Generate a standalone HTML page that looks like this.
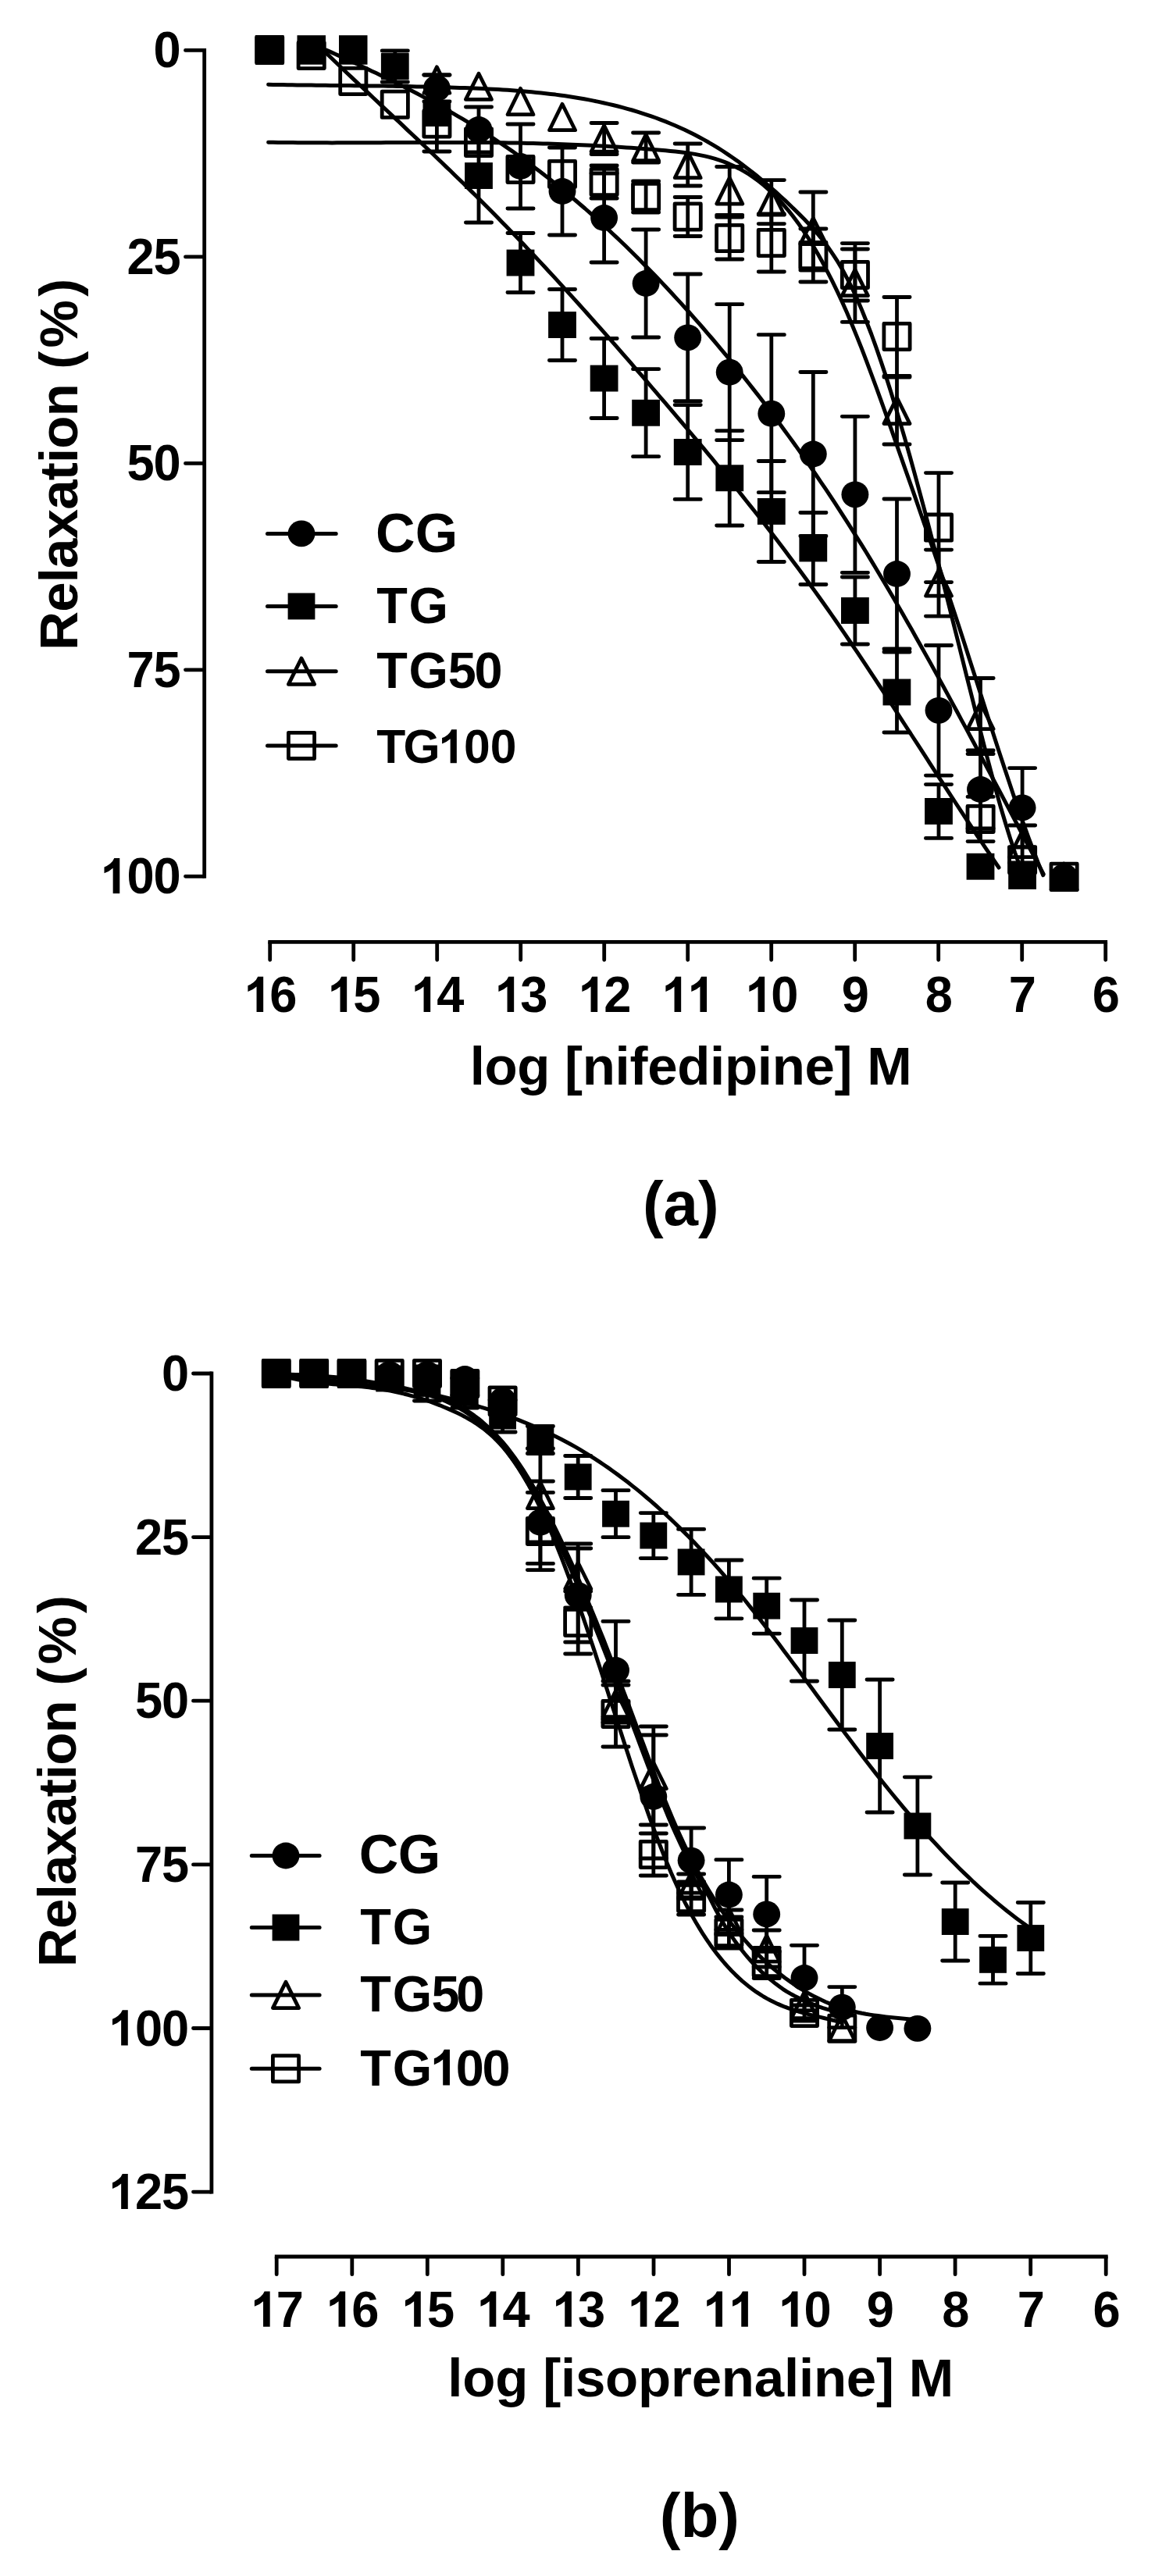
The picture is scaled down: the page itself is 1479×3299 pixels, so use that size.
<!DOCTYPE html>
<html><head><meta charset="utf-8"><title>chart</title><style>html,body{margin:0;padding:0;background:#fff}svg{display:block}
text{font-family:"Liberation Sans",sans-serif;font-weight:bold;fill:#000}
.T{font-size:69px}.P{font-size:80px}
.o{fill:none;stroke:#000;stroke-width:4.8;stroke-linejoin:round}
.e{fill:none;stroke:#000;stroke-width:4.8;stroke-linecap:round}
.c{fill:none;stroke:#000;stroke-width:5.0;stroke-linecap:round;stroke-linejoin:round}
.a{fill:none;stroke:#000;stroke-width:4.8;stroke-linecap:butt}
.k2{fill:none;stroke:#000;stroke-width:4.8;stroke-linecap:round}</style></head><body><svg width="1479" height="3299" viewBox="0 0 1479 3299"><rect width="1479" height="3299" fill="#fff"/><path class="c" d="M417.7 64.0L423.5 66.6L429.3 69.3L435.1 71.9L441.0 74.6L446.8 77.2L452.6 79.9L458.4 82.6L464.2 85.4L470.0 88.1L475.8 90.9L481.6 93.6L487.5 96.4L493.3 99.3L499.1 102.1L504.9 105.0L510.7 107.9L516.5 110.8L522.3 113.8L528.2 116.8L534.0 119.8L539.8 122.9L545.6 126.0L551.4 129.1L557.2 132.3L563.0 135.5L568.8 138.8L574.7 142.1L580.5 145.4L586.3 148.8L592.1 152.2L597.9 155.7L603.7 159.3L609.5 162.9L615.3 166.5L621.2 170.2L627.0 174.0L632.8 177.8L638.6 181.7L644.4 185.6L650.2 189.6L656.0 193.6L661.9 197.8L667.7 201.9L673.5 206.2L679.3 210.5L685.1 214.9L690.9 219.3L696.7 223.8L702.5 228.3L708.4 233.0L714.2 237.6L720.0 242.4L725.8 247.2L731.6 252.1L737.4 257.0L743.2 262.0L749.1 267.0L754.9 272.2L760.7 277.3L766.5 282.6L772.3 287.9L778.1 293.2L783.9 298.7L789.7 304.1L795.6 309.7L801.4 315.3L807.2 321.0L813.0 326.7L818.8 332.5L824.6 338.4L830.4 344.3L836.3 350.2L842.1 356.3L847.9 362.4L853.7 368.5L859.5 374.8L865.3 381.1L871.1 387.4L876.9 393.8L882.8 400.3L888.6 406.8L894.4 413.4L900.2 420.0L906.0 426.8L911.8 433.5L917.6 440.4L923.4 447.3L929.3 454.3L935.1 461.3L940.9 468.4L946.7 475.6L952.5 482.9L958.3 490.2L964.1 497.6L970.0 505.1L975.8 512.6L981.6 520.2L987.4 527.9L993.2 535.7L999.0 543.5L1004.8 551.4L1010.6 559.4L1016.5 567.5L1022.3 575.6L1028.1 583.8L1033.9 592.2L1039.7 600.5L1045.5 609.0L1051.3 617.6L1057.2 626.2L1063.0 634.9L1068.8 643.7L1074.6 652.6L1080.4 661.6L1086.2 670.7L1092.0 679.8L1097.8 689.1L1103.7 698.4L1109.5 707.8L1115.3 717.4L1121.1 727.0L1126.9 736.7L1132.7 746.4L1138.5 756.3L1144.4 766.2L1150.2 776.2L1156.0 786.3L1161.8 796.4L1167.6 806.6L1173.4 816.9L1179.2 827.2L1185.0 837.6L1190.9 848.1L1196.7 858.6L1202.5 869.1L1208.3 879.7L1214.1 890.4L1219.9 901.1L1225.7 911.8L1231.5 922.6L1237.4 933.4L1243.2 944.2L1249.0 955.0L1254.8 965.9L1260.6 976.8L1266.4 987.7L1272.2 998.7L1278.1 1009.6L1283.9 1020.6L1289.7 1031.6L1295.5 1042.6L1301.3 1053.5L1307.1 1064.5L1312.9 1075.5L1318.7 1086.5L1324.6 1097.5L1330.4 1108.4L1336.2 1119.4"/>
<path class="c" d="M417.7 68.0L423.2 73.3L428.7 78.5L434.2 83.8L439.6 89.0L445.1 94.2L450.6 99.4L456.1 104.6L461.6 109.8L467.1 114.9L472.6 120.1L478.0 125.3L483.5 130.4L489.0 135.6L494.5 140.8L500.0 145.9L505.5 151.1L511.0 156.2L516.5 161.4L521.9 166.6L527.4 171.8L532.9 176.9L538.4 182.1L543.9 187.3L549.4 192.6L554.9 197.8L560.3 203.0L565.8 208.3L571.3 213.6L576.8 218.8L582.3 224.2L587.8 229.5L593.3 234.8L598.7 240.2L604.2 245.6L609.7 251.0L615.2 256.5L620.7 262.0L626.2 267.5L631.7 273.0L637.1 278.6L642.6 284.2L648.1 289.8L653.6 295.5L659.1 301.1L664.6 306.9L670.1 312.6L675.5 318.4L681.0 324.2L686.5 330.0L692.0 335.9L697.5 341.8L703.0 347.7L708.5 353.6L714.0 359.6L719.4 365.6L724.9 371.6L730.4 377.6L735.9 383.7L741.4 389.7L746.9 395.8L752.4 402.0L757.8 408.1L763.3 414.3L768.8 420.4L774.3 426.6L779.8 432.9L785.3 439.1L790.8 445.4L796.2 451.6L801.7 457.9L807.2 464.2L812.7 470.6L818.2 476.9L823.7 483.2L829.2 489.6L834.6 496.0L840.1 502.4L845.6 508.8L851.1 515.2L856.6 521.6L862.1 528.1L867.6 534.6L873.1 541.0L878.5 547.5L884.0 554.0L889.5 560.6L895.0 567.1L900.5 573.7L906.0 580.3L911.5 586.9L916.9 593.6L922.4 600.3L927.9 607.0L933.4 613.7L938.9 620.5L944.4 627.3L949.9 634.1L955.3 641.0L960.8 647.9L966.3 654.8L971.8 661.8L977.3 668.8L982.8 675.9L988.3 683.0L993.7 690.1L999.2 697.3L1004.7 704.6L1010.2 711.9L1015.7 719.2L1021.2 726.6L1026.7 734.0L1032.2 741.5L1037.6 749.0L1043.1 756.6L1048.6 764.3L1054.1 772.0L1059.6 779.8L1065.1 787.6L1070.6 795.5L1076.0 803.4L1081.5 811.4L1087.0 819.5L1092.5 827.6L1098.0 835.7L1103.5 843.9L1109.0 852.1L1114.4 860.4L1119.9 868.7L1125.4 877.0L1130.9 885.4L1136.4 893.8L1141.9 902.2L1147.4 910.6L1152.8 919.1L1158.3 927.5L1163.8 936.0L1169.3 944.5L1174.8 952.9L1180.3 961.4L1185.8 969.9L1191.2 978.4L1196.7 986.8L1202.2 995.3L1207.7 1003.7L1213.2 1012.2L1218.7 1020.6L1224.2 1029.0L1229.7 1037.3L1235.1 1045.7L1240.6 1054.0L1246.1 1062.2L1251.6 1070.5L1257.1 1078.7L1262.6 1086.8L1268.1 1094.9L1273.5 1103.0L1279.0 1111.0"/>
<path class="c" d="M343.6 108.3L349.7 108.4L355.9 108.5L362.0 108.6L368.1 108.7L374.2 108.8L380.4 108.9L386.5 108.9L392.6 109.0L398.8 109.1L404.9 109.2L411.0 109.2L417.1 109.3L423.3 109.4L429.4 109.4L435.5 109.5L441.7 109.5L447.8 109.6L453.9 109.7L460.0 109.7L466.2 109.8L472.3 109.9L478.4 110.0L484.6 110.0L490.7 110.1L496.8 110.2L502.9 110.3L509.1 110.4L515.2 110.5L521.3 110.6L527.4 110.7L533.6 110.9L539.7 111.0L545.8 111.1L552.0 111.3L558.1 111.4L564.2 111.6L570.3 111.8L576.5 112.0L582.6 112.2L588.7 112.4L594.9 112.6L601.0 112.8L607.1 113.1L613.2 113.3L619.4 113.6L625.5 113.9L631.6 114.2L637.8 114.6L643.9 115.0L650.0 115.3L656.1 115.8L662.3 116.2L668.4 116.7L674.5 117.2L680.7 117.8L686.8 118.4L692.9 119.0L699.0 119.7L705.2 120.4L711.3 121.1L717.4 122.0L723.6 122.8L729.7 123.7L735.8 124.7L741.9 125.7L748.1 126.8L754.2 127.9L760.3 129.1L766.5 130.4L772.6 131.7L778.7 133.1L784.8 134.5L791.0 136.0L797.1 137.6L803.2 139.3L809.4 141.0L815.5 142.9L821.6 144.8L827.7 146.8L833.9 148.9L840.0 151.0L846.1 153.3L852.2 155.7L858.4 158.2L864.5 160.8L870.6 163.5L876.8 166.3L882.9 169.3L889.0 172.3L895.1 175.5L901.3 178.9L907.4 182.3L913.5 185.9L919.7 189.7L925.8 193.5L931.9 197.6L938.0 201.8L944.2 206.1L950.3 210.6L956.4 215.2L962.6 219.9L968.7 224.8L974.8 229.9L980.9 235.0L987.1 240.3L993.2 245.7L999.3 251.3L1005.5 256.9L1011.6 262.7L1017.7 268.6L1023.8 274.6L1030.0 280.8L1036.1 287.2L1042.2 294.0L1048.4 301.2L1054.5 308.8L1060.6 317.0L1066.7 325.8L1072.9 335.4L1079.0 345.8L1085.1 357.1L1091.3 369.3L1097.4 382.6L1103.5 396.8L1109.6 412.0L1115.8 428.0L1121.9 444.9L1128.0 462.6L1134.2 481.1L1140.3 500.2L1146.4 520.1L1152.5 540.6L1158.7 561.6L1164.8 583.2L1170.9 605.3L1177.0 627.8L1183.2 650.8L1189.3 674.1L1195.4 697.7L1201.6 721.6L1207.7 745.7L1213.8 769.9L1219.9 794.4L1226.1 818.9L1232.2 843.4L1238.3 867.9L1244.5 892.4L1250.6 916.8L1256.7 941.1L1262.8 965.0L1269.0 988.4L1275.1 1011.1L1281.2 1033.0L1287.4 1053.8L1293.5 1073.5L1299.6 1091.8L1305.7 1108.5"/>
<path class="c" d="M343.6 182.2L349.9 182.3L356.2 182.4L362.4 182.5L368.7 182.6L375.0 182.6L381.3 182.7L387.6 182.7L393.8 182.8L400.1 182.8L406.4 182.8L412.7 182.8L419.0 182.8L425.2 182.9L431.5 182.8L437.8 182.8L444.1 182.8L450.3 182.8L456.6 182.8L462.9 182.8L469.2 182.8L475.5 182.7L481.7 182.7L488.0 182.7L494.3 182.6L500.6 182.6L506.9 182.6L513.1 182.6L519.4 182.5L525.7 182.5L532.0 182.5L538.3 182.4L544.5 182.4L550.8 182.4L557.1 182.4L563.4 182.4L569.7 182.4L575.9 182.4L582.2 182.4L588.5 182.4L594.8 182.4L601.0 182.4L607.3 182.5L613.6 182.5L619.9 182.6L626.2 182.6L632.4 182.7L638.7 182.8L645.0 182.8L651.3 182.9L657.6 183.0L663.8 183.1L670.1 183.3L676.4 183.4L682.7 183.6L689.0 183.7L695.2 183.9L701.5 184.1L707.8 184.3L714.1 184.5L720.4 184.7L726.6 185.0L732.9 185.2L739.2 185.5L745.5 185.7L751.8 186.0L758.0 186.3L764.3 186.7L770.6 187.0L776.9 187.3L783.1 187.7L789.4 188.1L795.7 188.5L802.0 188.9L808.3 189.3L814.5 189.8L820.8 190.2L827.1 190.7L833.4 191.2L839.7 191.7L845.9 192.3L852.2 192.8L858.5 193.4L864.8 194.0L871.1 194.7L877.3 195.5L883.6 196.4L889.9 197.4L896.2 198.6L902.5 199.9L908.7 201.4L915.0 203.2L921.3 205.2L927.6 207.4L933.8 209.9L940.1 212.8L946.4 215.9L952.7 219.4L959.0 223.2L965.2 227.4L971.5 232.1L977.8 237.1L984.1 242.6L990.4 248.5L996.6 254.9L1002.9 261.8L1009.2 269.1L1015.5 277.0L1021.8 285.4L1028.0 294.3L1034.3 303.8L1040.6 313.9L1046.9 324.5L1053.2 335.8L1059.4 347.6L1065.7 359.9L1072.0 372.9L1078.3 386.4L1084.6 400.6L1090.8 415.3L1097.1 430.6L1103.4 446.4L1109.7 462.8L1115.9 479.5L1122.2 496.5L1128.5 513.9L1134.8 531.5L1141.1 549.2L1147.3 567.0L1153.6 584.9L1159.9 602.8L1166.2 620.7L1172.5 638.7L1178.7 656.7L1185.0 674.9L1191.3 693.1L1197.6 711.5L1203.9 730.0L1210.1 748.6L1216.4 767.4L1222.7 786.4L1229.0 805.5L1235.3 824.9L1241.5 844.5L1247.8 864.1L1254.1 883.8L1260.4 903.5L1266.6 923.2L1272.9 942.8L1279.2 962.2L1285.5 981.4L1291.8 1000.3L1298.0 1018.9L1304.3 1037.1L1310.6 1054.9L1316.9 1072.3L1323.2 1089.0L1329.4 1105.2L1335.7 1120.8"/>
<rect x="326.9" y="45.2" width="36.5" height="37.5"/>
<rect x="380.5" y="45.2" width="36.5" height="37.5"/>
<rect x="434.0" y="45.2" width="36.5" height="37.5"/>
<path class="e" d="M505.8 65.0V105.0M489.2 65.0h33.2M489.2 105.0h33.2"/>
<rect x="487.9" y="68.0" width="35.8" height="33.9"/>
<path class="e" d="M559.4 96.0V194.0M542.8 96.0h33.2M542.8 194.0h33.2"/>
<rect x="541.5" y="128.1" width="35.8" height="33.9"/>
<path class="e" d="M613.0 165.0V285.0M596.4 165.0h33.2M596.4 285.0h33.2"/>
<rect x="595.1" y="208.1" width="35.8" height="33.9"/>
<path class="e" d="M666.5 298.5V374.5M649.9 298.5h33.2M649.9 374.5h33.2"/>
<rect x="648.6" y="319.6" width="35.8" height="33.9"/>
<path class="e" d="M720.0 370.5V461.5M703.4 370.5h33.2M703.4 461.5h33.2"/>
<rect x="702.1" y="399.1" width="35.8" height="33.9"/>
<path class="e" d="M773.6 433.5V535.5M757.0 433.5h33.2M757.0 535.5h33.2"/>
<rect x="755.7" y="467.6" width="35.8" height="33.9"/>
<path class="e" d="M827.1 472.7V584.7M810.5 472.7h33.2M810.5 584.7h33.2"/>
<rect x="809.2" y="511.8" width="35.8" height="33.9"/>
<path class="e" d="M880.7 518.6V639.4M864.1 518.6h33.2M864.1 639.4h33.2"/>
<rect x="862.8" y="562.0" width="35.8" height="33.9"/>
<path class="e" d="M934.2 551.6V673.0M917.6 551.6h33.2M917.6 673.0h33.2"/>
<rect x="916.4" y="595.3" width="35.8" height="33.9"/>
<path class="e" d="M987.8 590.5V719.5M971.2 590.5h33.2M971.2 719.5h33.2"/>
<rect x="969.9" y="638.0" width="35.8" height="33.9"/>
<path class="e" d="M1041.3 656.5V748.5M1024.8 656.5h33.2M1024.8 748.5h33.2"/>
<rect x="1023.4" y="685.5" width="35.8" height="33.9"/>
<path class="e" d="M1094.9 739.0V825.0M1078.3 739.0h33.2M1078.3 825.0h33.2"/>
<rect x="1077.0" y="765.0" width="35.8" height="33.9"/>
<path class="e" d="M1148.5 835.0V938.0M1131.9 835.0h33.2M1131.9 938.0h33.2"/>
<rect x="1130.5" y="869.5" width="35.8" height="33.9"/>
<path class="e" d="M1202.0 1004.6V1073.4M1185.4 1004.6h33.2M1185.4 1073.4h33.2"/>
<rect x="1184.1" y="1022.0" width="35.8" height="33.9"/>
<rect x="1237.6" y="1092.8" width="35.8" height="33.9"/>
<rect x="1291.2" y="1105.0" width="35.8" height="33.9"/>
<path class="e" d="M559.4 96.0V130.0M542.8 96.0h33.2M542.8 130.0h33.2"/>
<ellipse cx="559.4" cy="113.0" rx="17.45" ry="16.9"/>
<path class="e" d="M613.0 137.0V195.0M596.4 137.0h33.2M596.4 195.0h33.2"/>
<ellipse cx="613.0" cy="166.0" rx="17.45" ry="16.9"/>
<path class="e" d="M666.5 159.0V267.0M649.9 159.0h33.2M649.9 267.0h33.2"/>
<ellipse cx="666.5" cy="213.0" rx="17.45" ry="16.9"/>
<path class="e" d="M720.0 189.0V301.0M703.4 189.0h33.2M703.4 301.0h33.2"/>
<ellipse cx="720.0" cy="245.0" rx="17.45" ry="16.9"/>
<path class="e" d="M773.6 222.0V336.0M757.0 222.0h33.2M757.0 336.0h33.2"/>
<ellipse cx="773.6" cy="279.0" rx="17.45" ry="16.9"/>
<path class="e" d="M827.1 294.0V432.0M810.5 294.0h33.2M810.5 432.0h33.2"/>
<ellipse cx="827.1" cy="363.0" rx="17.45" ry="16.9"/>
<path class="e" d="M880.7 351.0V513.6M864.1 351.0h33.2M864.1 513.6h33.2"/>
<ellipse cx="880.7" cy="432.3" rx="17.45" ry="16.9"/>
<path class="e" d="M934.2 389.7V563.7M917.6 389.7h33.2M917.6 563.7h33.2"/>
<ellipse cx="934.2" cy="476.7" rx="17.45" ry="16.9"/>
<path class="e" d="M987.8 428.7V630.7M971.2 428.7h33.2M971.2 630.7h33.2"/>
<ellipse cx="987.8" cy="529.7" rx="17.45" ry="16.9"/>
<path class="e" d="M1041.3 476.5V686.5M1024.8 476.5h33.2M1024.8 686.5h33.2"/>
<ellipse cx="1041.3" cy="581.5" rx="17.45" ry="16.9"/>
<path class="e" d="M1094.9 533.3V733.3M1078.3 533.3h33.2M1078.3 733.3h33.2"/>
<ellipse cx="1094.9" cy="633.3" rx="17.45" ry="16.9"/>
<path class="e" d="M1148.5 639.0V831.0M1131.9 639.0h33.2M1131.9 831.0h33.2"/>
<ellipse cx="1148.5" cy="735.0" rx="17.45" ry="16.9"/>
<path class="e" d="M1202.0 826.5V993.1M1185.4 826.5h33.2M1185.4 993.1h33.2"/>
<ellipse cx="1202.0" cy="909.8" rx="17.45" ry="16.9"/>
<path class="e" d="M1255.5 961.0V1061.0M1239.0 961.0h33.2M1239.0 1061.0h33.2"/>
<ellipse cx="1255.5" cy="1011.0" rx="17.45" ry="16.9"/>
<path class="e" d="M1309.1 983.6V1085.2M1292.5 983.6h33.2M1292.5 1085.2h33.2"/>
<ellipse cx="1309.1" cy="1034.4" rx="17.45" ry="16.9"/>
<ellipse cx="1362.6" cy="1122.8" rx="17.45" ry="16.9"/>
<path class="o" d="M559.4 85.8L575.9 119.2L542.9 119.2Z"/>
<path class="o" d="M613.0 94.2L629.5 127.4L596.4 127.4Z"/>
<path class="o" d="M666.5 113.3L683.0 146.7L650.0 146.7Z"/>
<path class="o" d="M720.0 133.3L736.6 166.7L703.5 166.7Z"/>
<path class="e" d="M773.6 157.5V197.5M757.0 157.5h33.2M757.0 197.5h33.2"/>
<path class="o" d="M773.6 160.8L790.1 194.2L757.0 194.2Z"/>
<path class="e" d="M827.1 170.0V208.0M810.5 170.0h33.2M810.5 208.0h33.2"/>
<path class="o" d="M827.1 172.3L843.7 205.7L810.6 205.7Z"/>
<path class="e" d="M880.7 184.0V238.0M864.1 184.0h33.2M864.1 238.0h33.2"/>
<path class="o" d="M880.7 194.3L897.2 227.7L864.2 227.7Z"/>
<path class="e" d="M934.2 213.5V275.5M917.6 213.5h33.2M917.6 275.5h33.2"/>
<path class="o" d="M934.2 227.8L950.8 261.1L917.7 261.1Z"/>
<path class="e" d="M987.8 230.6V286.6M971.2 230.6h33.2M971.2 286.6h33.2"/>
<path class="o" d="M987.8 242.0L1004.3 275.2L971.2 275.2Z"/>
<path class="e" d="M1041.3 246.0V346.0M1024.8 246.0h33.2M1024.8 346.0h33.2"/>
<path class="o" d="M1041.3 279.4L1057.9 312.6L1024.8 312.6Z"/>
<path class="e" d="M1094.9 311.6V412.4M1078.3 311.6h33.2M1078.3 412.4h33.2"/>
<path class="o" d="M1094.9 345.4L1111.4 378.6L1078.3 378.6Z"/>
<path class="e" d="M1148.5 483.0V569.0M1131.9 483.0h33.2M1131.9 569.0h33.2"/>
<path class="o" d="M1148.5 509.4L1165.0 542.6L1131.9 542.6Z"/>
<path class="e" d="M1202.0 704.1V789.1M1185.4 704.1h33.2M1185.4 789.1h33.2"/>
<path class="o" d="M1202.0 730.0L1218.5 763.2L1185.5 763.2Z"/>
<path class="e" d="M1255.5 868.5V965.5M1239.0 868.5h33.2M1239.0 965.5h33.2"/>
<path class="o" d="M1255.5 900.4L1272.1 933.6L1239.0 933.6Z"/>
<path class="e" d="M1309.1 1057.0V1105.0M1292.5 1057.0h33.2M1292.5 1105.0h33.2"/>
<path class="o" d="M1309.1 1064.3L1325.6 1097.7L1292.5 1097.7Z"/>
<path class="o" d="M1362.6 1106.1L1379.2 1139.5L1346.1 1139.5Z"/>
<rect class="o" x="328.6" y="47.4" width="33.2" height="33.2"/>
<rect class="o" x="382.1" y="54.4" width="33.2" height="33.2"/>
<rect class="o" x="435.7" y="87.4" width="33.2" height="33.2"/>
<rect class="o" x="489.2" y="117.2" width="33.2" height="33.2"/>
<rect class="o" x="542.8" y="141.9" width="33.2" height="33.2"/>
<rect class="o" x="596.4" y="166.4" width="33.2" height="33.2"/>
<rect class="o" x="649.9" y="200.4" width="33.2" height="33.2"/>
<rect class="o" x="703.4" y="206.4" width="33.2" height="33.2"/>
<path class="e" d="M773.6 212.0V254.0M757.0 212.0h33.2M757.0 254.0h33.2"/>
<rect class="o" x="757.0" y="216.4" width="33.2" height="33.2"/>
<path class="e" d="M827.1 232.0V272.0M810.5 232.0h33.2M810.5 272.0h33.2"/>
<rect class="o" x="810.5" y="235.4" width="33.2" height="33.2"/>
<path class="e" d="M880.7 252.5V302.5M864.1 252.5h33.2M864.1 302.5h33.2"/>
<rect class="o" x="864.1" y="260.9" width="33.2" height="33.2"/>
<path class="e" d="M934.2 278.0V332.0M917.6 278.0h33.2M917.6 332.0h33.2"/>
<rect class="o" x="917.6" y="288.4" width="33.2" height="33.2"/>
<path class="e" d="M987.8 274.0V348.0M971.2 274.0h33.2M971.2 348.0h33.2"/>
<rect class="o" x="971.2" y="294.4" width="33.2" height="33.2"/>
<path class="e" d="M1041.3 293.0V361.0M1024.8 293.0h33.2M1024.8 361.0h33.2"/>
<rect class="o" x="1024.8" y="310.4" width="33.2" height="33.2"/>
<path class="e" d="M1094.9 319.0V385.0M1078.3 319.0h33.2M1078.3 385.0h33.2"/>
<rect class="o" x="1078.3" y="335.4" width="33.2" height="33.2"/>
<path class="e" d="M1148.5 380.5V481.5M1131.9 380.5h33.2M1131.9 481.5h33.2"/>
<rect class="o" x="1131.9" y="414.4" width="33.2" height="33.2"/>
<path class="e" d="M1202.0 605.6V745.6M1185.4 605.6h33.2M1185.4 745.6h33.2"/>
<rect class="o" x="1185.4" y="659.0" width="33.2" height="33.2"/>
<path class="e" d="M1255.5 1020.4V1077.6M1239.0 1020.4h33.2M1239.0 1077.6h33.2"/>
<rect class="o" x="1239.0" y="1032.4" width="33.2" height="33.2"/>
<rect class="o" x="1292.5" y="1084.7" width="33.2" height="33.2"/>
<rect class="o" x="1346.0" y="1106.2" width="33.2" height="33.2"/>
<rect x="1347.6" y="1113" width="30" height="24"/>
<path class="c" d="M354.0 1760.4L360.1 1760.3L366.1 1760.2L372.2 1760.3L378.3 1760.4L384.4 1760.6L390.4 1760.8L396.5 1761.1L402.6 1761.4L408.7 1761.9L414.7 1762.3L420.8 1762.9L426.9 1763.4L432.9 1764.1L439.0 1764.8L445.1 1765.5L451.2 1766.3L457.2 1767.1L463.3 1768.0L469.4 1769.0L475.4 1769.9L481.5 1770.9L487.6 1772.0L493.7 1773.1L499.7 1774.2L505.8 1775.4L511.9 1776.6L518.0 1777.8L524.0 1779.1L530.1 1780.4L536.2 1781.7L542.2 1783.0L548.3 1784.4L554.4 1785.8L560.5 1787.2L566.5 1788.7L572.6 1790.2L578.7 1791.7L584.7 1793.3L590.8 1794.9L596.9 1796.5L603.0 1798.2L609.0 1800.0L615.1 1801.8L621.2 1803.6L627.3 1805.6L633.3 1807.5L639.4 1809.6L645.5 1811.7L651.5 1813.8L657.6 1816.1L663.7 1818.4L669.8 1820.8L675.8 1823.3L681.9 1825.8L688.0 1828.4L694.1 1831.2L700.1 1834.0L706.2 1836.9L712.3 1839.9L718.3 1843.0L724.4 1846.2L730.5 1849.5L736.6 1852.9L742.6 1856.4L748.7 1860.1L754.8 1863.8L760.8 1867.7L766.9 1871.6L773.0 1875.7L779.1 1879.9L785.1 1884.2L791.2 1888.6L797.3 1893.2L803.4 1897.8L809.4 1902.6L815.5 1907.4L821.6 1912.4L827.6 1917.5L833.7 1922.7L839.8 1928.0L845.9 1933.5L851.9 1939.0L858.0 1944.7L864.1 1950.5L870.1 1956.4L876.2 1962.4L882.3 1968.5L888.4 1974.7L894.4 1981.1L900.5 1987.6L906.6 1994.2L912.7 2000.9L918.7 2007.7L924.8 2014.6L930.9 2021.7L936.9 2028.9L943.0 2036.1L949.1 2043.5L955.2 2051.0L961.2 2058.6L967.3 2066.3L973.4 2074.1L979.4 2081.9L985.5 2089.8L991.6 2097.8L997.7 2105.8L1003.7 2113.9L1009.8 2122.0L1015.9 2130.2L1022.0 2138.3L1028.0 2146.6L1034.1 2154.8L1040.2 2163.0L1046.2 2171.3L1052.3 2179.5L1058.4 2187.7L1064.5 2195.9L1070.5 2204.1L1076.6 2212.3L1082.7 2220.4L1088.8 2228.5L1094.8 2236.6L1100.9 2244.6L1107.0 2252.5L1113.0 2260.3L1119.1 2268.1L1125.2 2275.9L1131.3 2283.5L1137.3 2291.0L1143.4 2298.5L1149.5 2305.8L1155.5 2313.1L1161.6 2320.3L1167.7 2327.4L1173.8 2334.3L1179.8 2341.2L1185.9 2348.0L1192.0 2354.7L1198.1 2361.3L1204.1 2367.8L1210.2 2374.2L1216.3 2380.4L1222.3 2386.6L1228.4 2392.7L1234.5 2398.6L1240.6 2404.4L1246.6 2410.2L1252.7 2415.8L1258.8 2421.3L1264.8 2426.7L1270.9 2431.9L1277.0 2437.1L1283.1 2442.1L1289.1 2447.0L1295.2 2451.7L1301.3 2456.4L1307.4 2460.9L1313.4 2465.3L1319.5 2469.6"/>
<path class="c" d="M354.0 1759.6L358.6 1761.0L363.1 1762.4L367.7 1763.6L372.2 1764.7L376.8 1765.8L381.3 1766.7L385.9 1767.6L390.4 1768.4L395.0 1769.1L399.5 1769.7L404.1 1770.3L408.6 1770.9L413.2 1771.4L417.7 1771.8L422.3 1772.3L426.9 1772.7L431.4 1773.1L436.0 1773.4L440.5 1773.8L445.1 1774.2L449.6 1774.6L454.2 1775.0L458.7 1775.4L463.3 1775.8L467.8 1776.3L472.4 1776.8L476.9 1777.4L481.5 1778.0L486.1 1778.7L490.6 1779.5L495.2 1780.3L499.7 1781.1L504.3 1782.0L508.8 1783.0L513.4 1784.0L517.9 1785.2L522.5 1786.3L527.0 1787.6L531.6 1788.9L536.1 1790.2L540.7 1791.7L545.2 1793.1L549.8 1794.7L554.4 1796.4L558.9 1798.1L563.5 1799.8L568.0 1801.7L572.6 1803.6L577.1 1805.6L581.7 1807.7L586.2 1809.8L590.8 1812.1L595.3 1814.4L599.9 1817.0L604.4 1819.7L609.0 1822.5L613.5 1825.6L618.1 1828.9L622.7 1832.5L627.2 1836.4L631.8 1840.5L636.3 1845.0L640.9 1849.8L645.4 1854.9L650.0 1860.5L654.5 1866.4L659.1 1872.8L663.6 1879.6L668.2 1886.8L672.7 1894.5L677.3 1902.6L681.8 1911.2L686.4 1920.1L691.0 1929.4L695.5 1939.1L700.1 1949.2L704.6 1959.6L709.2 1970.4L713.7 1981.6L718.3 1993.1L722.8 2004.9L727.4 2017.0L731.9 2029.4L736.5 2042.1L741.0 2055.0L745.6 2068.1L750.2 2081.5L754.7 2095.0L759.3 2108.6L763.8 2122.4L768.4 2136.3L772.9 2150.3L777.5 2164.3L782.0 2178.4L786.6 2192.4L791.1 2206.5L795.7 2220.5L800.2 2234.5L804.8 2248.4L809.3 2262.2L813.9 2275.8L818.5 2289.2L823.0 2302.5L827.6 2315.6L832.1 2328.4L836.7 2340.9L841.2 2353.1L845.8 2365.0L850.3 2376.6L854.9 2387.7L859.4 2398.5L864.0 2408.8L868.5 2418.8L873.1 2428.3L877.6 2437.3L882.2 2446.0L886.8 2454.4L891.3 2462.3L895.9 2469.9L900.4 2477.2L905.0 2484.1L909.5 2490.7L914.1 2496.9L918.6 2502.9L923.2 2508.6L927.7 2514.0L932.3 2519.1L936.8 2524.0L941.4 2528.6L945.9 2532.9L950.5 2537.1L955.1 2540.9L959.6 2544.6L964.2 2548.0L968.7 2551.2L973.3 2554.2L977.8 2557.0L982.4 2559.6L986.9 2562.0L991.5 2564.3L996.0 2566.4L1000.6 2568.4L1005.1 2570.2L1009.7 2571.9L1014.3 2573.5L1018.8 2574.9L1023.4 2576.3L1027.9 2577.6L1032.5 2578.9L1037.0 2580.1L1041.6 2581.2L1046.1 2582.3L1050.7 2583.4L1055.2 2584.5L1059.8 2585.6L1064.3 2586.7L1068.9 2587.8L1073.4 2589.0L1078.0 2590.2"/>
<path class="c" d="M354.0 1759.5L359.2 1760.0L364.3 1760.6L369.5 1761.1L374.7 1761.7L379.8 1762.3L385.0 1762.9L390.2 1763.6L395.4 1764.2L400.5 1764.8L405.7 1765.5L410.9 1766.2L416.0 1766.8L421.2 1767.5L426.4 1768.1L431.5 1768.8L436.7 1769.5L441.9 1770.1L447.1 1770.8L452.2 1771.4L457.4 1772.1L462.6 1772.7L467.7 1773.3L472.9 1773.9L478.1 1774.5L483.2 1775.0L488.4 1775.6L493.6 1776.2L498.8 1776.7L503.9 1777.3L509.1 1778.0L514.3 1778.6L519.4 1779.4L524.6 1780.2L529.8 1781.1L534.9 1782.1L540.1 1783.2L545.3 1784.5L550.5 1785.8L555.6 1787.3L560.8 1789.0L566.0 1790.8L571.1 1792.8L576.3 1795.0L581.5 1797.4L586.6 1800.0L591.8 1802.9L597.0 1806.0L602.2 1809.3L607.3 1812.9L612.5 1816.8L617.7 1821.0L622.8 1825.5L628.0 1830.3L633.2 1835.4L638.3 1840.9L643.5 1846.7L648.7 1852.9L653.8 1859.5L659.0 1866.5L664.2 1873.9L669.4 1881.7L674.5 1889.8L679.7 1898.4L684.9 1907.3L690.0 1916.5L695.2 1926.1L700.4 1935.9L705.5 1946.1L710.7 1956.6L715.9 1967.3L721.1 1978.3L726.2 1989.5L731.4 2000.9L736.6 2012.6L741.7 2024.4L746.9 2036.5L752.1 2048.8L757.2 2061.2L762.4 2073.8L767.6 2086.6L772.8 2099.5L777.9 2112.6L783.1 2125.9L788.3 2139.2L793.4 2152.7L798.6 2166.4L803.8 2180.1L808.9 2193.9L814.1 2207.8L819.3 2221.7L824.5 2235.5L829.6 2249.2L834.8 2262.8L840.0 2276.2L845.1 2289.5L850.3 2302.5L855.5 2315.1L860.6 2327.5L865.8 2339.5L871.0 2351.0L876.2 2362.2L881.3 2372.8L886.5 2383.1L891.7 2393.0L896.8 2402.4L902.0 2411.5L907.2 2420.3L912.3 2428.6L917.5 2436.7L922.7 2444.4L927.8 2451.8L933.0 2458.9L938.2 2465.8L943.4 2472.3L948.5 2478.6L953.7 2484.7L958.9 2490.5L964.0 2496.1L969.2 2501.5L974.4 2506.6L979.5 2511.5L984.7 2516.2L989.9 2520.8L995.1 2525.1L1000.2 2529.2L1005.4 2533.2L1010.6 2536.9L1015.7 2540.6L1020.9 2544.0L1026.1 2547.3L1031.2 2550.4L1036.4 2553.4L1041.6 2556.2L1046.8 2558.8L1051.9 2561.3L1057.1 2563.7L1062.3 2565.9L1067.4 2567.9L1072.6 2569.8L1077.8 2571.6L1082.9 2573.2L1088.1 2574.7L1093.3 2576.0L1098.5 2577.2L1103.6 2578.3L1108.8 2579.3L1114.0 2580.1L1119.1 2580.9L1124.3 2581.6L1129.5 2582.3L1134.6 2582.9L1139.8 2583.5L1145.0 2584.0L1150.2 2584.5L1155.3 2585.0L1160.5 2585.5L1165.7 2586.1L1170.8 2586.7L1176.0 2587.3"/>
<path class="c" d="M359.8 1760.6L365.0 1761.1L370.2 1761.7L375.3 1762.3L380.5 1762.9L385.7 1763.6L390.9 1764.2L396.0 1764.8L401.2 1765.5L406.4 1766.2L411.5 1766.8L416.7 1767.5L421.9 1768.1L427.0 1768.8L432.2 1769.5L437.4 1770.1L442.6 1770.8L447.7 1771.4L452.9 1772.1L458.1 1772.7L463.2 1773.3L468.4 1773.9L473.6 1774.5L478.7 1775.0L483.9 1775.6L489.1 1776.2L494.3 1776.7L499.4 1777.3L504.6 1778.0L509.8 1778.6L514.9 1779.4L520.1 1780.2L525.3 1781.1L530.4 1782.1L535.6 1783.2L540.8 1784.5L546.0 1785.8L551.1 1787.3L556.3 1789.0L561.5 1790.8L566.6 1792.8L571.8 1795.0L577.0 1797.4L582.1 1800.0L587.3 1802.9L592.5 1806.0L597.7 1809.3L602.8 1812.9L608.0 1816.8L613.2 1821.0L618.3 1825.5L623.5 1830.3L628.7 1835.4L633.8 1840.9L639.0 1846.7L644.2 1852.9L649.3 1859.5L654.5 1866.5L659.7 1873.9L664.9 1881.7L670.0 1889.8L675.2 1898.4L680.4 1907.3L685.5 1916.5L690.7 1926.1L695.9 1935.9L701.0 1946.1L706.2 1956.6L711.4 1967.3L716.6 1978.3L721.7 1989.5L726.9 2000.9L732.1 2012.6L737.2 2024.4L742.4 2036.5L747.6 2048.8L752.7 2061.2L757.9 2073.8L763.1 2086.6L768.3 2099.5L773.4 2112.6L778.6 2125.9L783.8 2139.2L788.9 2152.7L794.1 2166.4L799.3 2180.1L804.4 2193.9L809.6 2207.8L814.8 2221.7L820.0 2235.5L825.1 2249.2L830.3 2262.8L835.5 2276.2L840.6 2289.5L845.8 2302.5L851.0 2315.1L856.1 2327.5L861.3 2339.5L866.5 2351.0L871.7 2362.2L876.8 2372.8L882.0 2383.1L887.2 2393.0L892.3 2402.4L897.5 2411.5L902.7 2420.3L907.8 2428.6L911.9 2436.7L915.8 2444.4L919.8 2451.8L923.8 2458.9L927.9 2465.8L932.0 2472.3L936.1 2478.6L940.3 2484.7L944.5 2490.5L948.8 2496.1L953.1 2501.5L957.4 2506.6L961.8 2511.5L966.2 2516.2L970.6 2520.8L975.1 2525.1L979.6 2529.2L984.1 2533.2L988.7 2536.9L993.3 2540.6L997.9 2544.0L1002.5 2547.3L1007.2 2550.4L1012.4 2553.4L1017.6 2556.2L1022.8 2558.8L1027.9 2561.3L1033.1 2563.7L1038.3 2565.9L1043.4 2567.9L1048.6 2569.8L1053.8 2571.6L1058.9 2573.2L1064.1 2574.7L1069.3 2576.0L1074.5 2577.2"/>
<rect x="335.6" y="1740.2" width="36.5" height="37.5"/>
<rect x="383.9" y="1740.2" width="36.5" height="37.5"/>
<rect x="432.1" y="1740.2" width="36.5" height="37.5"/>
<rect x="481.3" y="1748.5" width="34.8" height="33.9"/>
<path class="e" d="M547.0 1750.0V1794.0M530.4 1750.0h33.2M530.4 1794.0h33.2"/>
<rect x="529.6" y="1755.0" width="34.8" height="33.9"/>
<path class="e" d="M595.3 1765.0V1803.0M578.7 1765.0h33.2M578.7 1803.0h33.2"/>
<rect x="577.9" y="1767.0" width="34.8" height="33.9"/>
<path class="e" d="M643.6 1793.0V1834.0M627.0 1793.0h33.2M627.0 1834.0h33.2"/>
<rect x="626.2" y="1796.5" width="34.8" height="33.9"/>
<path class="e" d="M691.9 1826.5V1861.5M675.3 1826.5h33.2M675.3 1861.5h33.2"/>
<rect x="674.5" y="1827.0" width="34.8" height="33.9"/>
<path class="e" d="M740.2 1864.5V1918.5M723.6 1864.5h33.2M723.6 1918.5h33.2"/>
<rect x="722.8" y="1874.5" width="34.8" height="33.9"/>
<path class="e" d="M788.5 1908.7V1968.7M771.9 1908.7h33.2M771.9 1968.7h33.2"/>
<rect x="771.1" y="1921.8" width="34.8" height="33.9"/>
<path class="e" d="M836.8 1937.6V1995.6M820.2 1937.6h33.2M820.2 1995.6h33.2"/>
<rect x="819.4" y="1949.6" width="34.8" height="33.9"/>
<path class="e" d="M885.1 1958.4V2042.4M868.5 1958.4h33.2M868.5 2042.4h33.2"/>
<rect x="867.7" y="1983.5" width="34.8" height="33.9"/>
<path class="e" d="M933.4 1998.0V2072.8M916.8 1998.0h33.2M916.8 2072.8h33.2"/>
<rect x="916.0" y="2018.5" width="34.8" height="33.9"/>
<path class="e" d="M981.7 2021.2V2092.2M965.1 2021.2h33.2M965.1 2092.2h33.2"/>
<rect x="964.3" y="2039.7" width="34.8" height="33.9"/>
<path class="e" d="M1030.0 2049.0V2153.0M1013.4 2049.0h33.2M1013.4 2153.0h33.2"/>
<rect x="1012.6" y="2084.1" width="34.8" height="33.9"/>
<path class="e" d="M1078.3 2075.0V2215.0M1061.7 2075.0h33.2M1061.7 2215.0h33.2"/>
<rect x="1060.9" y="2128.1" width="34.8" height="33.9"/>
<path class="e" d="M1126.6 2151.0V2321.0M1110.0 2151.0h33.2M1110.0 2321.0h33.2"/>
<rect x="1109.2" y="2219.1" width="34.8" height="33.9"/>
<path class="e" d="M1174.9 2275.8V2401.0M1158.3 2275.8h33.2M1158.3 2401.0h33.2"/>
<rect x="1157.5" y="2321.5" width="34.8" height="33.9"/>
<path class="e" d="M1223.2 2411.0V2511.0M1206.6 2411.0h33.2M1206.6 2511.0h33.2"/>
<rect x="1205.8" y="2444.1" width="34.8" height="33.9"/>
<path class="e" d="M1271.5 2479.4V2540.2M1254.9 2479.4h33.2M1254.9 2540.2h33.2"/>
<rect x="1254.1" y="2492.9" width="34.8" height="33.9"/>
<path class="e" d="M1319.8 2436.5V2527.5M1303.2 2436.5h33.2M1303.2 2527.5h33.2"/>
<rect x="1302.4" y="2465.1" width="34.8" height="33.9"/>
<ellipse cx="353.8" cy="1759.0" rx="17.45" ry="16.9"/>
<ellipse cx="402.1" cy="1759.0" rx="17.45" ry="16.9"/>
<ellipse cx="450.4" cy="1759.0" rx="17.45" ry="16.9"/>
<ellipse cx="498.7" cy="1760.0" rx="17.45" ry="16.9"/>
<ellipse cx="547.0" cy="1760.0" rx="17.45" ry="16.9"/>
<ellipse cx="595.3" cy="1766.0" rx="17.45" ry="16.9"/>
<ellipse cx="643.6" cy="1793.6" rx="17.45" ry="16.9"/>
<path class="e" d="M691.9 1897.0V2002.4M675.3 1897.0h33.2M675.3 2002.4h33.2"/>
<ellipse cx="691.9" cy="1949.7" rx="17.45" ry="16.9"/>
<path class="e" d="M740.2 1983.0V2103.0M723.6 1983.0h33.2M723.6 2103.0h33.2"/>
<ellipse cx="740.2" cy="2043.0" rx="17.45" ry="16.9"/>
<path class="e" d="M788.5 2076.4V2201.6M771.9 2076.4h33.2M771.9 2201.6h33.2"/>
<ellipse cx="788.5" cy="2139.0" rx="17.45" ry="16.9"/>
<path class="e" d="M836.8 2222.0V2380.0M820.2 2222.0h33.2M820.2 2380.0h33.2"/>
<ellipse cx="836.8" cy="2301.0" rx="17.45" ry="16.9"/>
<path class="e" d="M885.1 2341.0V2424.2M868.5 2341.0h33.2M868.5 2424.2h33.2"/>
<ellipse cx="885.1" cy="2382.6" rx="17.45" ry="16.9"/>
<path class="e" d="M933.4 2381.7V2471.3M916.8 2381.7h33.2M916.8 2471.3h33.2"/>
<ellipse cx="933.4" cy="2426.5" rx="17.45" ry="16.9"/>
<path class="e" d="M981.7 2403.4V2499.4M965.1 2403.4h33.2M965.1 2499.4h33.2"/>
<ellipse cx="981.7" cy="2451.4" rx="17.45" ry="16.9"/>
<path class="e" d="M1030.0 2491.3V2574.7M1013.4 2491.3h33.2M1013.4 2574.7h33.2"/>
<ellipse cx="1030.0" cy="2533.0" rx="17.45" ry="16.9"/>
<path class="e" d="M1078.3 2544.6V2596.6M1061.7 2544.6h33.2M1061.7 2596.6h33.2"/>
<ellipse cx="1078.3" cy="2570.6" rx="17.45" ry="16.9"/>
<ellipse cx="1126.6" cy="2597.0" rx="17.45" ry="16.9"/>
<ellipse cx="1174.9" cy="2597.8" rx="17.45" ry="16.9"/>
<path class="o" d="M595.3 1753.3L611.8 1786.7L578.8 1786.7Z"/>
<path class="o" d="M643.6 1778.3L660.1 1811.7L627.0 1811.7Z"/>
<path class="e" d="M691.9 1855.0V1975.0M675.3 1855.0h33.2M675.3 1975.0h33.2"/>
<path class="o" d="M691.9 1898.3L708.4 1931.7L675.4 1931.7Z"/>
<path class="e" d="M740.2 1977.0V2059.0M723.6 1977.0h33.2M723.6 2059.0h33.2"/>
<path class="o" d="M740.2 2001.3L756.8 2034.7L723.7 2034.7Z"/>
<path class="e" d="M788.5 2158.0V2206.0M771.9 2158.0h33.2M771.9 2206.0h33.2"/>
<path class="o" d="M788.5 2165.3L805.0 2198.7L772.0 2198.7Z"/>
<path class="e" d="M836.8 2211.0V2337.0M820.2 2211.0h33.2M820.2 2337.0h33.2"/>
<path class="o" d="M836.8 2257.3L853.3 2290.7L820.2 2290.7Z"/>
<path class="e" d="M885.1 2400.0V2430.0M868.5 2400.0h33.2M868.5 2430.0h33.2"/>
<path class="o" d="M885.1 2398.3L901.6 2431.7L868.5 2431.7Z"/>
<path class="e" d="M933.4 2446.0V2476.0M916.8 2446.0h33.2M916.8 2476.0h33.2"/>
<path class="o" d="M933.4 2444.3L949.9 2477.7L916.8 2477.7Z"/>
<path class="e" d="M981.7 2472.0V2519.0M965.1 2472.0h33.2M965.1 2519.0h33.2"/>
<path class="o" d="M981.7 2478.8L998.2 2512.2L965.2 2512.2Z"/>
<path class="o" d="M1030.0 2551.3L1046.5 2584.7L1013.5 2584.7Z"/>
<path class="o" d="M1078.3 2580.3L1094.8 2613.7L1061.8 2613.7Z"/>
<rect class="o" x="337.2" y="1742.4" width="33.2" height="33.2"/>
<rect class="o" x="385.5" y="1742.4" width="33.2" height="33.2"/>
<rect class="o" x="433.8" y="1742.4" width="33.2" height="33.2"/>
<rect class="o" x="482.1" y="1742.4" width="33.2" height="33.2"/>
<rect class="o" x="530.4" y="1742.4" width="33.2" height="33.2"/>
<rect class="o" x="578.7" y="1755.4" width="33.2" height="33.2"/>
<rect class="o" x="627.0" y="1776.8" width="33.2" height="33.2"/>
<path class="e" d="M691.9 1911.4V2010.6M675.3 1911.4h33.2M675.3 2010.6h33.2"/>
<rect class="o" x="675.3" y="1944.4" width="33.2" height="33.2"/>
<path class="e" d="M740.2 2038.0V2118.0M723.6 2038.0h33.2M723.6 2118.0h33.2"/>
<rect class="o" x="723.6" y="2061.4" width="33.2" height="33.2"/>
<path class="e" d="M788.5 2153.0V2237.0M771.9 2153.0h33.2M771.9 2237.0h33.2"/>
<rect class="o" x="771.9" y="2178.4" width="33.2" height="33.2"/>
<path class="e" d="M836.8 2348.0V2402.0M820.2 2348.0h33.2M820.2 2402.0h33.2"/>
<rect class="o" x="820.2" y="2358.4" width="33.2" height="33.2"/>
<path class="e" d="M885.1 2410.0V2452.0M868.5 2410.0h33.2M868.5 2452.0h33.2"/>
<rect class="o" x="868.5" y="2414.4" width="33.2" height="33.2"/>
<path class="e" d="M933.4 2455.0V2495.0M916.8 2455.0h33.2M916.8 2495.0h33.2"/>
<rect class="o" x="916.8" y="2458.4" width="33.2" height="33.2"/>
<path class="e" d="M981.7 2494.5V2533.5M965.1 2494.5h33.2M965.1 2533.5h33.2"/>
<rect class="o" x="965.1" y="2497.4" width="33.2" height="33.2"/>
<path class="e" d="M1030.0 2568.0V2588.0M1013.4 2568.0h33.2M1013.4 2588.0h33.2"/>
<rect class="o" x="1013.4" y="2561.4" width="33.2" height="33.2"/>
<rect class="o" x="1061.7" y="2581.2" width="33.2" height="33.2"/>
<path class="a" d="M261.7 62V1124.8"/>
<path class="k2" d="M237.5 64.4H261M237.5 328.9H261M237.5 593.4H261M237.5 857.8H261M237.5 1122.3H261"/>
<path class="a" d="M343.3 1206.4H1418.1"/>
<path class="k2" d="M345.7 1207V1229.3M452.7 1207V1229.3M559.7 1207V1229.3M666.7 1207V1229.3M773.7 1207V1229.3M880.7 1207V1229.3M987.7 1207V1229.3M1094.7 1207V1229.3M1201.7 1207V1229.3M1308.7 1207V1229.3M1415.7 1207V1229.3"/>
<path class="a" d="M270.9 1756.6V2809.5"/>
<path class="k2" d="M247.5 1759.0H270.4M247.5 1968.6H270.4M247.5 2178.2H270.4M247.5 2387.9H270.4M247.5 2597.5H270.4M247.5 2807.1H270.4"/>
<path class="a" d="M351.8 2890H1418.7"/>
<path class="k2" d="M354.2 2890.5V2912.7M450.8 2890.5V2912.7M547.3 2890.5V2912.7M643.8 2890.5V2912.7M740.4 2890.5V2912.7M837.0 2890.5V2912.7M933.5 2890.5V2912.7M1030.0 2890.5V2912.7M1126.6 2890.5V2912.7M1223.1 2890.5V2912.7M1319.7 2890.5V2912.7M1416.2 2890.5V2912.7"/>
<text class="k" transform="translate(0 86.4) scale(1 1.03)" font-size="63.2" x="196.4">0</text>
<text class="k" transform="translate(0 350.9) scale(1 1.03)" font-size="63.2" x="162.5 196.4">25</text>
<text class="k" transform="translate(0 615.4) scale(1 1.03)" font-size="63.2" x="162.5 196.4">50</text>
<text class="k" transform="translate(0 879.8) scale(1 1.03)" font-size="63.2" x="162.5 196.4">75</text>
<text class="k" transform="translate(0 1144.3) scale(1 1.03)" font-size="63.2" x="162.5 196.4">00</text>
<path d="M797 0H516V-1059Q362 -915 153 -846V-1101Q263 -1137 392 -1237.5Q521 -1338 569 -1472H797Z" transform="translate(128.8 1144.3) scale(0.03071)"/>
<text class="k" transform="translate(0 1296.0) scale(1 1.03)" font-size="63.2" x="345.2">6</text>
<path d="M797 0H516V-1059Q362 -915 153 -846V-1101Q263 -1137 392 -1237.5Q521 -1338 569 -1472H797Z" transform="translate(312.7 1296.0) scale(0.03071)"/>
<text class="k" transform="translate(0 1296.0) scale(1 1.03)" font-size="63.2" x="452.2">5</text>
<path d="M797 0H516V-1059Q362 -915 153 -846V-1101Q263 -1137 392 -1237.5Q521 -1338 569 -1472H797Z" transform="translate(419.7 1296.0) scale(0.03071)"/>
<text class="k" transform="translate(0 1296.0) scale(1 1.03)" font-size="63.2" x="559.3">4</text>
<path d="M797 0H516V-1059Q362 -915 153 -846V-1101Q263 -1137 392 -1237.5Q521 -1338 569 -1472H797Z" transform="translate(526.7 1296.0) scale(0.03071)"/>
<text class="k" transform="translate(0 1296.0) scale(1 1.03)" font-size="63.2" x="666.3">3</text>
<path d="M797 0H516V-1059Q362 -915 153 -846V-1101Q263 -1137 392 -1237.5Q521 -1338 569 -1472H797Z" transform="translate(633.7 1296.0) scale(0.03071)"/>
<text class="k" transform="translate(0 1296.0) scale(1 1.03)" font-size="63.2" x="773.3">2</text>
<path d="M797 0H516V-1059Q362 -915 153 -846V-1101Q263 -1137 392 -1237.5Q521 -1338 569 -1472H797Z" transform="translate(740.7 1296.0) scale(0.03071)"/>
<path d="M797 0H516V-1059Q362 -915 153 -846V-1101Q263 -1137 392 -1237.5Q521 -1338 569 -1472H797Z" transform="translate(847.7 1296.0) scale(0.03071)"/>
<path d="M797 0H516V-1059Q362 -915 153 -846V-1101Q263 -1137 392 -1237.5Q521 -1338 569 -1472H797Z" transform="translate(880.6 1296.0) scale(0.03071)"/>
<text class="k" transform="translate(0 1296.0) scale(1 1.03)" font-size="63.2" x="987.3">0</text>
<path d="M797 0H516V-1059Q362 -915 153 -846V-1101Q263 -1137 392 -1237.5Q521 -1338 569 -1472H797Z" transform="translate(954.7 1296.0) scale(0.03071)"/>
<text class="k" transform="translate(0 1296.0) scale(1 1.03)" font-size="63.2" x="1077.8">9</text>
<text class="k" transform="translate(0 1296.0) scale(1 1.03)" font-size="63.2" x="1184.8">8</text>
<text class="k" transform="translate(0 1296.0) scale(1 1.03)" font-size="63.2" x="1291.8">7</text>
<text class="k" transform="translate(0 1296.0) scale(1 1.03)" font-size="63.2" x="1398.8">6</text>
<text class="k" transform="translate(0 1781.0) scale(1 1.03)" font-size="63.2" x="206.9">0</text>
<text class="k" transform="translate(0 1990.6) scale(1 1.03)" font-size="63.2" x="173.0 206.9">25</text>
<text class="k" transform="translate(0 2200.2) scale(1 1.03)" font-size="63.2" x="173.0 206.9">50</text>
<text class="k" transform="translate(0 2409.9) scale(1 1.03)" font-size="63.2" x="173.0 206.9">75</text>
<text class="k" transform="translate(0 2619.5) scale(1 1.03)" font-size="63.2" x="173.0 206.9">00</text>
<path d="M797 0H516V-1059Q362 -915 153 -846V-1101Q263 -1137 392 -1237.5Q521 -1338 569 -1472H797Z" transform="translate(139.3 2619.5) scale(0.03071)"/>
<text class="k" transform="translate(0 2829.1) scale(1 1.03)" font-size="63.2" x="173.0 206.9">25</text>
<path d="M797 0H516V-1059Q362 -915 153 -846V-1101Q263 -1137 392 -1237.5Q521 -1338 569 -1472H797Z" transform="translate(139.3 2829.1) scale(0.03071)"/>
<text class="k" transform="translate(0 2979.8) scale(1 1.03)" font-size="63.2" x="353.7">7</text>
<path d="M797 0H516V-1059Q362 -915 153 -846V-1101Q263 -1137 392 -1237.5Q521 -1338 569 -1472H797Z" transform="translate(321.2 2979.8) scale(0.03071)"/>
<text class="k" transform="translate(0 2979.8) scale(1 1.03)" font-size="63.2" x="450.3">6</text>
<path d="M797 0H516V-1059Q362 -915 153 -846V-1101Q263 -1137 392 -1237.5Q521 -1338 569 -1472H797Z" transform="translate(417.7 2979.8) scale(0.03071)"/>
<text class="k" transform="translate(0 2979.8) scale(1 1.03)" font-size="63.2" x="546.9">5</text>
<path d="M797 0H516V-1059Q362 -915 153 -846V-1101Q263 -1137 392 -1237.5Q521 -1338 569 -1472H797Z" transform="translate(514.3 2979.8) scale(0.03071)"/>
<text class="k" transform="translate(0 2979.8) scale(1 1.03)" font-size="63.2" x="643.4">4</text>
<path d="M797 0H516V-1059Q362 -915 153 -846V-1101Q263 -1137 392 -1237.5Q521 -1338 569 -1472H797Z" transform="translate(610.8 2979.8) scale(0.03071)"/>
<text class="k" transform="translate(0 2979.8) scale(1 1.03)" font-size="63.2" x="740.0">3</text>
<path d="M797 0H516V-1059Q362 -915 153 -846V-1101Q263 -1137 392 -1237.5Q521 -1338 569 -1472H797Z" transform="translate(707.4 2979.8) scale(0.03071)"/>
<text class="k" transform="translate(0 2979.8) scale(1 1.03)" font-size="63.2" x="836.5">2</text>
<path d="M797 0H516V-1059Q362 -915 153 -846V-1101Q263 -1137 392 -1237.5Q521 -1338 569 -1472H797Z" transform="translate(803.9 2979.8) scale(0.03071)"/>
<path d="M797 0H516V-1059Q362 -915 153 -846V-1101Q263 -1137 392 -1237.5Q521 -1338 569 -1472H797Z" transform="translate(900.5 2979.8) scale(0.03071)"/>
<path d="M797 0H516V-1059Q362 -915 153 -846V-1101Q263 -1137 392 -1237.5Q521 -1338 569 -1472H797Z" transform="translate(933.4 2979.8) scale(0.03071)"/>
<text class="k" transform="translate(0 2979.8) scale(1 1.03)" font-size="63.2" x="1029.6">0</text>
<path d="M797 0H516V-1059Q362 -915 153 -846V-1101Q263 -1137 392 -1237.5Q521 -1338 569 -1472H797Z" transform="translate(997.0 2979.8) scale(0.03071)"/>
<text class="k" transform="translate(0 2979.8) scale(1 1.03)" font-size="63.2" x="1109.7">9</text>
<text class="k" transform="translate(0 2979.8) scale(1 1.03)" font-size="63.2" x="1206.3">8</text>
<text class="k" transform="translate(0 2979.8) scale(1 1.03)" font-size="63.2" x="1302.8">7</text>
<text class="k" transform="translate(0 2979.8) scale(1 1.03)" font-size="63.2" x="1399.4">6</text>
<text class="T" text-anchor="middle" letter-spacing="-0.3" x="884.5" y="1388.6">log [nifedipine] M</text>
<text class="T" text-anchor="middle" letter-spacing="-0.2" x="897.2" y="3069.2">log [isoprenaline] M</text>
<text class="T" text-anchor="middle" transform="translate(99.4 592.7) rotate(-90)"><tspan letter-spacing="-0.8">Relaxation</tspan> <tspan letter-spacing="4.3">(%)</tspan></text>
<text class="T" text-anchor="middle" transform="translate(97.3 2278.8) rotate(-90)"><tspan letter-spacing="-0.8">Relaxation</tspan> <tspan letter-spacing="4.3">(%)</tspan></text>
<text class="P" x="822.9" y="1569.2">(a)</text>
<text class="P" x="844.8" y="3249.2">(b)</text>
<path class="c" d="M342.5 683.4H430.20000000000005"/>
<ellipse cx="386.0" cy="683.4" rx="17.45" ry="16.9"/>
<text class="k" x="481.1 531.8" y="706.7" font-size="70">CG</text>
<path class="c" d="M342.5 776.5H430.20000000000005"/>
<rect x="368.6" y="759.5" width="34.8" height="33.9"/>
<text class="k" x="482.2 523.6" y="797.6" font-size="64.8">TG</text>
<path class="c" d="M342.5 859.7H430.20000000000005"/>
<path class="o" d="M386.0 843.1L402.6 876.4L369.4 876.4Z"/>
<text class="k" x="482.2 523.6 573.8 607.4" y="880.6" font-size="64.8">TG50</text>
<path class="c" d="M342.5 954.9H430.20000000000005"/>
<rect class="o" x="369.4" y="938.3" width="33.2" height="33.2"/>
<text class="k" x="482.2 516.4 594.1 627.8" y="977.2" font-size="60.6">TG00</text>
<path d="M797 0H516V-1059Q362 -915 153 -846V-1101Q263 -1137 392 -1237.5Q521 -1338 569 -1472H797Z" transform="translate(561.6 977.2) scale(0.02915)"/>
<path class="c" d="M322.29999999999995 2376.5H409.1"/>
<ellipse cx="366.0" cy="2376.5" rx="17.45" ry="16.9"/>
<text class="k" x="459.7 509.7" y="2399" font-size="70">CG</text>
<path class="c" d="M322.29999999999995 2468.5H409.1"/>
<rect x="348.6" y="2451.6" width="34.8" height="33.9"/>
<text class="k" x="461.2 502.7" y="2489.8" font-size="64.8">TG</text>
<path class="c" d="M322.29999999999995 2554.9H409.1"/>
<path class="o" d="M366.0 2538.2L382.6 2571.6L349.4 2571.6Z"/>
<text class="k" x="461.2 502.7 552.5 584.2" y="2575.8" font-size="64.8">TG50</text>
<path class="c" d="M322.29999999999995 2649.3H409.1"/>
<rect class="o" x="349.4" y="2632.7" width="33.2" height="33.2"/>
<text class="k" x="461.2 502.7 583.7 617.5" y="2670.6" font-size="64.8">TG00</text>
<path d="M797 0H516V-1059Q362 -915 153 -846V-1101Q263 -1137 392 -1237.5Q521 -1338 569 -1472H797Z" transform="translate(551.1 2670.6) scale(0.03117)"/></svg></body></html>
